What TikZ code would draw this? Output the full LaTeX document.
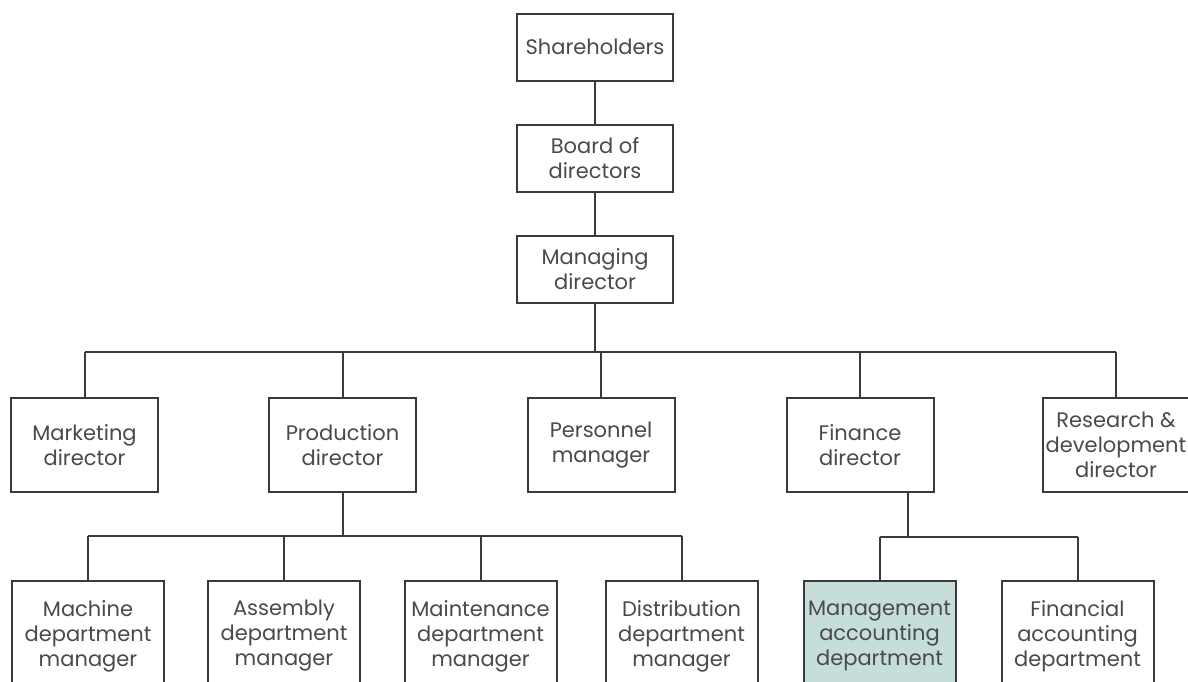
\documentclass[tikz,border=0pt]{standalone}
\usepackage{fontspec}
\setmainfont{Poppins}
\usepackage{xcolor}
\usetikzlibrary{positioning,calc}
\definecolor{inkgray}{HTML}{3A3A3A}
\definecolor{textgray}{HTML}{4A4A4A}
\definecolor{mgmtfill}{HTML}{C6DED9}
\tikzset{
  orgbox/.style={rectangle, draw=inkgray, line width=2pt, fill=white, align=center, text=textgray, font=\fontsize{21}{25}\selectfont, minimum width=147pt, minimum height=94pt, inner sep=0pt},
  orgtop/.style={orgbox, minimum width=156pt, minimum height=67pt},
  orgdept/.style={orgbox, minimum width=152pt, minimum height=110pt},
  orghl/.style={orgdept, fill=mgmtfill},
  orgline/.style={draw=inkgray, line width=2pt}
}
\begin{document}
\begin{tikzpicture}[x=1pt, y=-1pt]
\useasboundingbox (0,0) rectangle (1188,681);
\fill[white] (0,0) rectangle (1188,681);
% top of the chart
\node[orgtop] (share) at (595,47) {Shareholders};
\node[orgtop] (board) at (595,158.5) {Board of\\directors};
\node[orgtop] (md) at (595,269.5) {Managing\\director};
% directors
\node[orgbox] (mkt) at (84.5,445) {Marketing\\director};
\node[orgbox] (prod) at (342.5,445) {Production\\director};
\node[orgbox] (pers) at (601,445) {Personnel\\manager};
\node[orgbox] (fin) at (860,445) {Finance\\director};
\node[orgbox] (rd) at (1116,445) {Research \&\\development\\director};
% departments
\node[orgdept] (mach) at (88,636) {Machine\\department\\manager};
\node[orgdept] (assy) at (284,636) {Assembly\\department\\manager};
\node[orgdept] (maint) at (480.5,636) {Maintenance\\department\\manager};
\node[orgdept] (dist) at (681.5,636) {Distribution\\department\\manager};
\node[orghl] (mgmt) at (879.5,636) {Management\\accounting\\department};
\node[orgdept] (facc) at (1077.5,636) {Financial\\accounting\\department};
% bus lines
\coordinate (busA) at (0,352);
\coordinate (busB) at (0,536);
\coordinate (busC) at (908,537);
\draw[orgline] (share) -- (board);
\draw[orgline] (board) -- (md);
\draw[orgline] (md.south) -- (md.south |- busA);
\draw[orgline] (mkt.north |- busA) -- (rd.north |- busA);
\foreach \n in {mkt,prod,pers,fin,rd}
  \draw[orgline] (\n.north) -- (\n.north |- busA);
\draw[orgline] (prod.south) -- (prod.south |- busB);
\draw[orgline] (mach.north |- busB) -- (dist.north |- busB);
\foreach \n in {mach,assy,maint,dist}
  \draw[orgline] (\n.north) -- (\n.north |- busB);
\draw[orgline] (fin.south -| busC) -- (busC);
\draw[orgline] (mgmt.north |- busC) -- (facc.north |- busC);
\foreach \n in {mgmt,facc}
  \draw[orgline] (\n.north) -- (\n.north |- busC);
\end{tikzpicture}
\end{document}
